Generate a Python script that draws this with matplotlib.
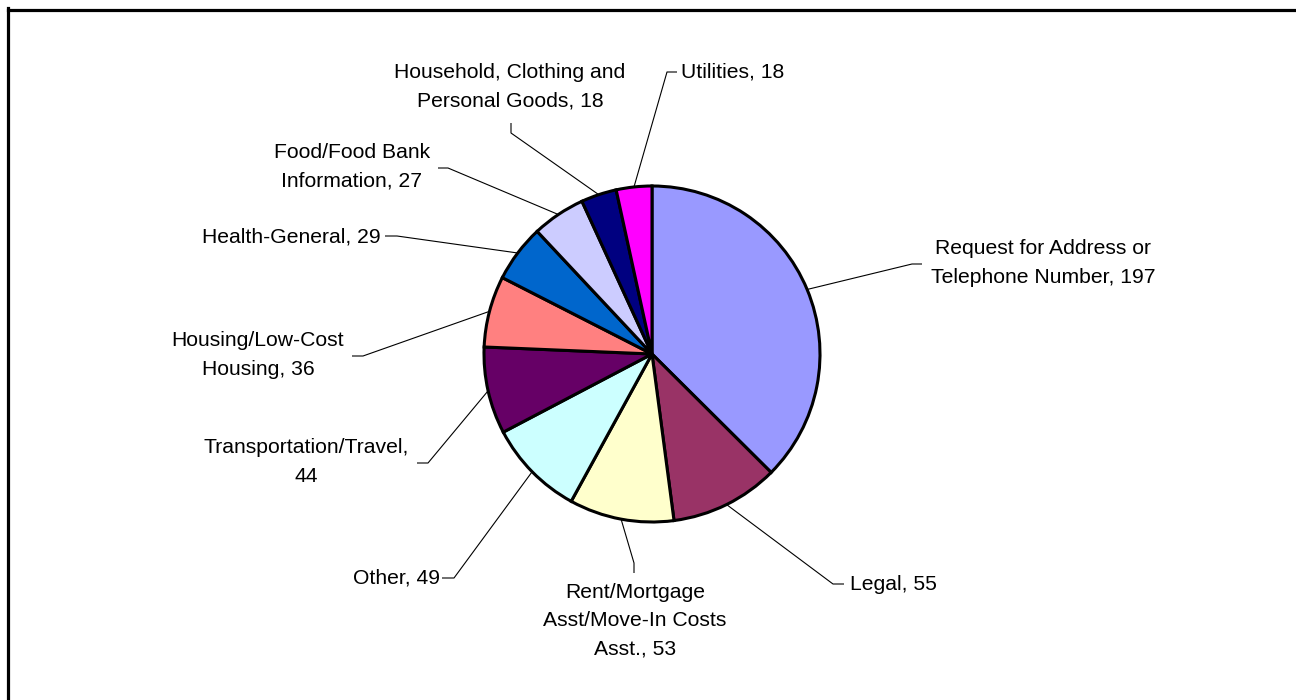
import matplotlib
matplotlib.use('Agg')
import matplotlib.pyplot as plt
import numpy as np

# data
labels = ['Request for Address or\nTelephone Number, 197', 'Legal, 55',
          'Rent/Mortgage\nAsst/Move-In Costs\nAsst., 53', 'Other, 49',
          'Transportation/Travel,\n44', 'Housing/Low-Cost\nHousing, 36',
          'Health-General, 29', 'Food/Food Bank\nInformation, 27',
          'Household, Clothing and\nPersonal Goods, 18', 'Utilities, 18']
values = [197, 55, 53, 49, 44, 36, 29, 27, 18, 18]
colors = ['#9999FF', '#993366', '#FFFFCC', '#CCFFFF', '#660066',
          '#FF8080', '#0066CC', '#CCCCFF', '#000080', '#FF00FF']

W, H = 1296, 700
# label layout in pixels (top-left origin): text x, text y, ha, elbow, leader end
label_pos = [
    (1043, 263, 'center', (912, 264), (922, 264)),
    (850, 584, 'left', (833, 584), (844, 584)),
    (635, 621, 'center', (634, 563), (634, 573)),
    (440, 578, 'right', (454, 578), (442, 578)),
    (306, 462, 'center', (428, 463), (417, 463)),
    (258, 355, 'center', (363, 356), (352, 356)),
    (381, 237, 'right', (397, 236), (385, 236)),
    (352, 167, 'center', (448, 168), (438, 168)),
    (510, 87, 'center', (511, 133), (511, 123)),
    (681, 72, 'left', (667, 72), (677, 72)),
]

plt.rcParams['font.family'] = ['Liberation Sans', 'DejaVu Sans']

fig = plt.figure(figsize=(W / 100, H / 100), dpi=100)
ax = fig.add_axes([0, 0, 1, 1])
ax.set_xlim(0, W)
ax.set_ylim(0, H)
ax.set_aspect('equal')
ax.axis('off')

def py(y):
    return H - y

cx, cy, r = 652, py(354), 168
wedges, _ = ax.pie(values, colors=colors, startangle=90, counterclock=False,
                   center=(cx, cy), radius=r, frame=True,
                   wedgeprops=dict(edgecolor='black', linewidth=2.2))
ax.set_xlim(0, W)
ax.set_ylim(0, H)
ax.axis('off')

for w, lab, (tx, ty, ha, elbow, end) in zip(wedges, labels, label_pos):
    mid = np.deg2rad((w.theta1 + w.theta2) / 2)
    ex, ey = cx + r * np.cos(mid), cy + r * np.sin(mid)
    ax.plot([ex, elbow[0], end[0]], [ey, py(elbow[1]), py(end[1])],
            color='black', lw=0.8, solid_capstyle='butt')
    ax.text(tx, py(ty), lab, ha=ha, va='center', fontsize=15.2,
            linespacing=1.62, multialignment='center')

# open frame (top and left edges)
ax.plot([8, W], [py(9.5), py(9.5)], color='black', lw=2.3)
ax.plot([8, 8], [py(8), 0], color='black', lw=2.3)

fig.savefig('out.png', dpi=100)
